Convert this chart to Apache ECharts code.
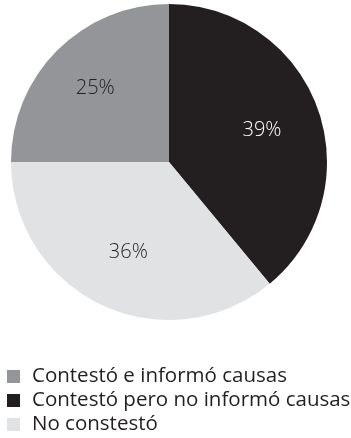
<!DOCTYPE html>
<html>
<head>
<meta charset="utf-8">
<script src="https://cdn.jsdelivr.net/npm/echarts@6/dist/echarts.min.js"></script>
<style>
  html, body { margin: 0; padding: 0; background: #ffffff; }
  #chart { width: 351px; height: 438px; }
</style>
</head>
<body>
<div id="chart"></div>
<script>
// Response categories (legend order) and their shares in percent
const categories = [
  'Contestó e informó causas',
  'Contestó pero no informó causas',
  'No constestó'
];
const shares = [25, 39, 36];
const colors = ['#939598', '#231f20', '#e1e2e4'];
const labelColors = ['#231f20', '#ffffff', '#231f20'];

// Slices are drawn clockwise from 12 o'clock in this order
const drawOrder = [1, 2, 0];

const FONT = '"Open Sans", Lato, sans-serif';
const CENTER = [169, 162];
const RADIUS = 158;

const pieData = drawOrder.map(i => ({
  name: categories[i],
  value: shares[i],
  itemStyle: { color: colors[i] },
  label: { color: labelColors[i] }
}));

const chart = echarts.init(document.getElementById('chart'), null, { renderer: 'canvas' });
chart.setOption({
  animation: false,
  backgroundColor: '#ffffff',
  legend: {
    data: categories,
    orient: 'vertical',
    left: 7,
    top: 366,
    padding: 0,
    icon: 'rect',
    itemWidth: 13,
    itemHeight: 13,
    itemGap: 3,
    selectedMode: false,
    textStyle: {
      fontFamily: FONT,
      fontWeight: 400,
      fontSize: 20.5,
      lineHeight: 21,
      color: '#231f20',
      padding: [0, 0, 0, 7]
    }
  },
  series: [{
    type: 'pie',
    center: CENTER,
    radius: RADIUS,
    startAngle: 90,
    clockwise: true,
    avoidLabelOverlap: false,
    silent: true,
    itemStyle: { borderWidth: 0 },
    label: {
      show: true,
      position: 'inside',
      formatter: '{c}%',
      fontFamily: FONT,
      fontWeight: 300,
      fontSize: 20
    },
    // push the inside labels a little further out along their radius
    labelLayout: function (p) {
      const cx = p.rect.x + p.rect.width / 2;
      const cy = p.rect.y + p.rect.height / 2;
      return { dx: (cx - CENTER[0]) * 0.2, dy: (cy - CENTER[1]) * 0.2 };
    },
    labelLine: { show: false },
    data: pieData
  }]
});
</script>
</body>
</html>
